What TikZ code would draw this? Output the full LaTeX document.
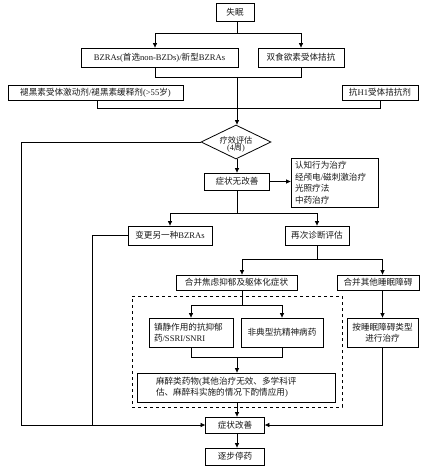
\documentclass[tikz,border=0pt]{standalone}
\usepackage{fontspec}
\setmainfont{Liberation Serif}
\newfontfamily\cjk{Noto Sans CJK SC}
\usetikzlibrary{arrows.meta,shapes.geometric}
\newcommand{\la}[1]{{\rmfamily #1}}
\begin{document}
\begin{tikzpicture}[x=1pt,y=-1pt,
  box/.style={draw, line width=0.8pt, inner sep=0pt, text=black!90,
    font=\cjk\fontsize{8.6}{11.5}\selectfont, align=center},
  arr/.style={-{Triangle[length=4.5pt,width=4pt]}, line width=0.7pt},
  ln/.style={line width=0.7pt}]
\useasboundingbox[fill=white] (0,0) rectangle (428,470);

% nodes
\node[box, minimum width=38pt, minimum height=18pt] (n1) at (235,12) {失眠};
\node[box, minimum width=157pt, minimum height=19pt] (bz) at (159.5,57.5) {\la{BZRAs(}首选\la{non-BZDs)/}新型\la{BZRAs}};
\node[box, minimum width=86pt, minimum height=19pt] (dora) at (301,57.5) {双食欲素受体拮抗};
\node[box, minimum width=175pt, minimum height=15pt] (mel) at (95.5,92.5) {褪黑素受体激动剂\la{/}褪黑素缓释剂\la{(>55}岁\la{)}};
\node[box, minimum width=76pt, minimum height=15pt] (h1) at (380,92.5) {抗\la{H1}受体拮抗剂};
\node[draw, diamond, line width=0.8pt, inner sep=0pt, minimum width=70pt, minimum height=34pt] (dia) at (236,142) {};
\node[font=\cjk\fontsize{8.2}{10}\selectfont, align=center, inner sep=0pt, text=black!90] (diat) at (236,144) {疗效评估\\[-3pt]\la{(4}周\la{)}};
\node[box, minimum width=65pt, minimum height=17pt] (wu) at (237,181.5) {症状无改善};
\node[box, minimum width=87pt, minimum height=49pt, align=left, text width=79pt] (list) at (334.5,182.5) {认知行为治疗\\经颅电\la{/}磁刺激治疗\\光照疗法\\中药治疗};
\node[box, minimum width=84pt, minimum height=19pt] (change) at (170,235.5) {变更另一种\la{BZRAs}};
\node[box, minimum width=64pt, minimum height=19pt] (rediag) at (317,235.5) {再次诊断评估};
\node[box, minimum width=121pt, minimum height=15pt] (anx) at (236.5,282.5) {合并焦虑抑郁及躯体化症状};
\node[box, minimum width=82pt, minimum height=15pt] (other) at (378,282.5) {合并其他睡眠障碍};
\node[draw, dashed, line width=0.7pt, inner sep=0pt, minimum width=210pt, minimum height=111pt] (grp) at (237,351.5) {};
\node[box, minimum width=84pt, minimum height=29pt, align=left, text width=74pt] (sed) at (191,332.5) {镇静作用的抗抑郁\\药\la{/SSRI/SNRI}};
\node[box, minimum width=82pt, minimum height=29pt] (atyp) at (282,332.5) {非典型抗精神病药};
\node[box, minimum width=198pt, minimum height=29pt, align=left, text width=160pt] (anes) at (236,387.5) {麻醉类药物\la{(}其他治疗无效、多学科评\\估、麻醉科实施的情况下酌情应用\la{)}};
\node[box, minimum width=71pt, minimum height=29pt] (bytype) at (382.5,332.5) {按睡眠障碍类型\\进行治疗};
\node[box, minimum width=59pt, minimum height=16pt] (imp) at (235,425) {症状改善};
\node[box, minimum width=59pt, minimum height=17pt] (stop) at (235,456.5) {逐步停药};

% junctions
\coordinate (j1) at (237,33);
\coordinate (j2) at (237,77);
\coordinate (j3) at (237,108);
\coordinate (j4) at (237,213);
\coordinate (j5) at (317,259);
\coordinate (j6) at (242,305);
\coordinate (j7) at (237,357);
\coordinate (cL1) at (21,0);
\coordinate (cL2) at (92,0);

% connectors
\draw[ln] (j1 |- n1.south) -- (j1);
\draw[arr] (j1) -| ([xshift=-4.5pt]bz.north);
\draw[arr] (j1) -| (dora.north);
\draw[ln] ([xshift=-4.5pt]bz.south) |- (j2);
\draw[ln] (dora.south) |- (j2);
\draw[ln] (j2) -- (j3);
\draw[ln] ([xshift=1.5pt]mel.south) |- (j3);
\draw[ln] (h1.south) |- (j3);
\draw[arr] (j3) -- (j3 |- dia.north);
\draw[arr] (j3 |- dia.south) -- (wu.north);
\draw[arr] (wu.east) -- (wu.east -| list.west);
\draw[ln] (wu.south) -- (j4);
\draw[arr] (j4) -| (change.north);
\draw[arr] (j4) -| (rediag.north);
\draw[ln] (rediag.south) -- (j5);
\draw[arr] (j5) -| (j6 |- anx.north);
\draw[arr] (j5) -| (bytype.north |- other.north);
\draw[ln] (j6 |- anx.south) -- (j6);
\draw[arr] (j6) -| (sed.north);
\draw[arr] (j6) -| (atyp.north);
\draw[ln] (sed.south) |- (j7);
\draw[ln] (atyp.south) |- (j7);
\draw[arr] (j7) -- (j7 |- anes.north);
\draw[arr] (j7 |- anes.south) -- (j7 |- imp.north);
\draw[arr] (bytype.north |- other.south) -- (bytype.north);
\draw[arr] (bytype.south) |- (imp.east);
\draw[arr] (dia.west) -| (cL1 |- imp.west) -- (imp.west);
\draw[ln] (change.west) -| (cL2 |- imp.west);
\draw[arr] (j7 |- imp.south) -- (j7 |- stop.north);
\end{tikzpicture}
\end{document}
